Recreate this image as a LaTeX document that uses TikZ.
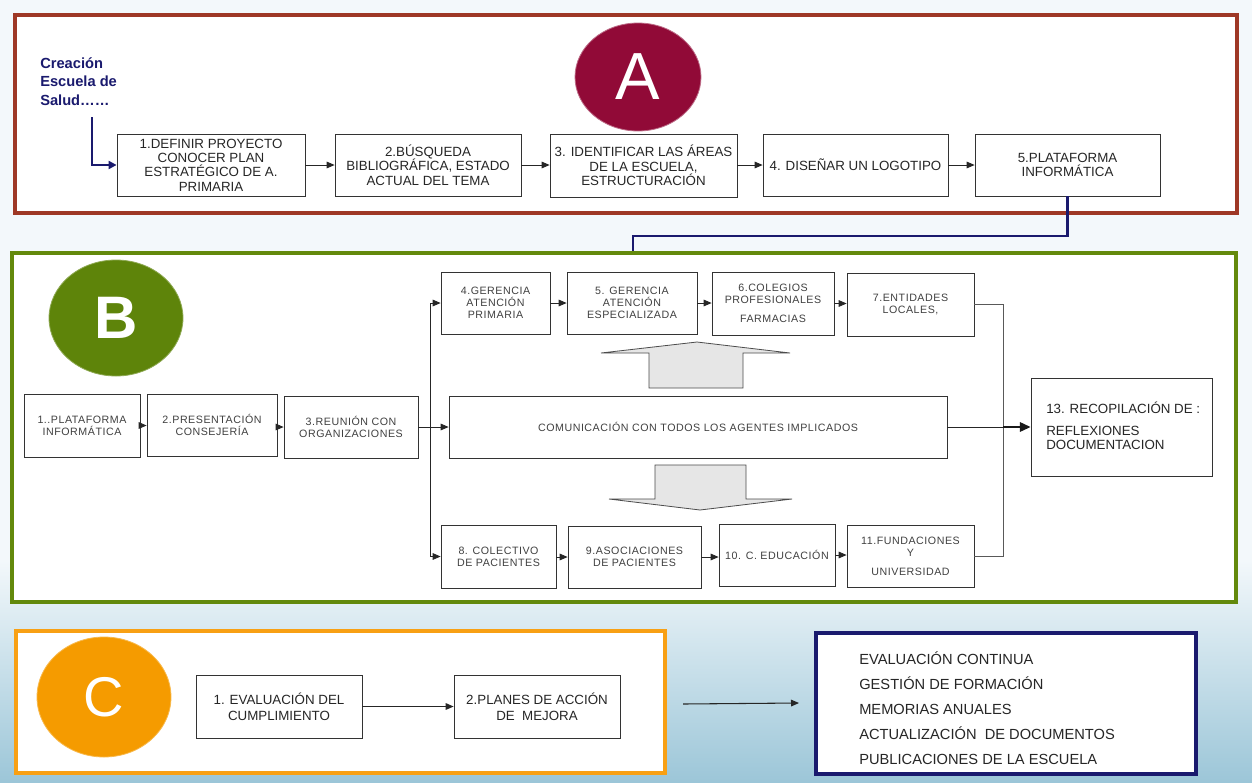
\documentclass[tikz,border=0pt]{standalone}
\usepackage{fontspec}
\setmainfont{Liberation Sans}
\newfontfamily\spc[LetterSpace=5]{Liberation Sans}
\usetikzlibrary{arrows.meta,shapes.geometric}
\definecolor{framea}{RGB}{158,56,38}
\definecolor{frameb}{RGB}{99,137,12}
\definecolor{framec}{RGB}{248,160,20}
\definecolor{navy}{RGB}{26,26,110}
\definecolor{circa}{RGB}{145,10,55}
\definecolor{circb}{RGB}{94,132,10}
\definecolor{circc}{RGB}{245,155,0}
\definecolor{bgtop}{RGB}{243,248,251}
\definecolor{bgbot}{RGB}{156,198,216}
\definecolor{blockgray}{RGB}{230,230,230}
\begin{document}
\begin{tikzpicture}[x=0.75pt,y=-0.75pt,
  sz/.style 2 args={minimum width=#1*0.75pt, minimum height=#2*0.75pt},
  frame/.style={fill=white, inner sep=0pt, line width=2.6pt},
  boxa/.style={draw=black!80, fill=white, line width=0.6pt, inner sep=0pt, align=center, font=\fontsize{10}{10.8}\selectfont, text=black!85},
  boxb/.style={draw=black!80, fill=white, line width=0.6pt, inner sep=0pt, align=center, font=\spc\fontsize{8}{9}\selectfont, text=black!75},
  boxc/.style={draw=black!80, fill=white, line width=0.6pt, inner sep=0pt, align=center, font=\fontsize{10}{12}\selectfont, text=black!85},
  arr/.style={-{Triangle[length=6pt,width=5pt]}, line width=0.6pt, draw=black!85},
  navyline/.style={draw=navy, line width=1.6pt},
  joinline/.style={draw=black!65, line width=0.6pt},
  blockarrow/.style={fill=blockgray, draw=black!70, line width=0.6pt},
  badge/.style={ellipse, inner sep=0pt, text=white}
]
\useasboundingbox (0,0) rectangle (1252,782);
\fill[bgtop] (0,0) rectangle (1252,782);
\shade[top color=bgtop, bottom color=bgbot] (0,560) rectangle (1252,782);

% ---------------- Section A ----------------
\node[frame, draw=framea, sz={1222}{198}] (frameA) at (626,114) {};
\node[badge, fill=circa, draw=circa!60!white, line width=0.6pt, sz={126}{108}] (circA) at (638,77) {\fontsize{50}{50}\selectfont A};
\node[anchor=north west, align=left, inner sep=0pt, text=navy, font=\bfseries\fontsize{11}{13.9}\selectfont] (creacion) at (40,57) {Creación\\Escuela de\\Salud……};
\node[boxa, sz={188}{62}] (a1) at (211,165) {1.DEFINIR PROYECTO\\CONOCER PLAN\\ESTRATÉGICO DE A.\\PRIMARIA};
\node[boxa, sz={186}{62}] (a2) at (428,165) {2.BÚSQUEDA\\BIBLIOGRÁFICA, ESTADO\\ACTUAL DEL TEMA};
\node[boxa, sz={187}{63}] (a3) at (643.5,165.5) {3. IDENTIFICAR LAS ÁREAS\\DE LA ESCUELA,\\ESTRUCTURACIÓN};
\node[boxa, sz={185}{62}] (a4) at (855.5,165) {4. DISEÑAR UN LOGOTIPO};
\node[boxa, sz={185}{62}] (a5) at (1067.5,165) {5.PLATAFORMA\\INFORMÁTICA};
\coordinate (cstart) at (92,117);
\draw[navyline, -{Triangle[length=6pt,width=6pt]}] (cstart) |- (a1.west);
\draw[arr] (a1.east) -- (a2.west);
\draw[arr] (a2.east) -- (a2.east -| a3.west);
\draw[arr] (a3.east |- a4.west) -- (a4.west);
\draw[arr] (a4.east) -- (a5.west);

% ---------------- Section B ----------------
\node[frame, draw=frameb, line width=3pt, sz={1224}{349}] (frameB) at (624,427.5) {};
\coordinate (aelbow) at (633,236);
\draw[navyline] (a5.south) |- (aelbow) -- (aelbow |- frameB.north);
\node[badge, fill=circb, draw=circb!70!white, line width=0.6pt, sz={134}{116}] (circB) at (116,318) {\bfseries\fontsize{45}{45}\selectfont B};

\node[boxb, sz={116}{63}] (b1) at (82,425.5) {1..PLATAFORMA\\INFORMÁTICA};
\node[boxb, sz={130}{62}] (b2) at (212,425) {2.PRESENTACIÓN\\CONSEJERÍA};
\node[boxb, sz={134}{62}] (b3) at (351,427) {3.REUNIÓN CON\\ORGANIZACIONES};
\node[boxb, sz={109}{62}] (b4) at (495.5,303) {4.GERENCIA\\ATENCIÓN\\PRIMARIA};
\node[boxb, sz={130}{62}] (b5) at (632,303) {5. GERENCIA\\ATENCIÓN\\ESPECIALIZADA};
\node[boxb, sz={122}{63}] (b6) at (773,303.5) {6.COLEGIOS\\PROFESIONALES\\[5pt]FARMACIAS};
\node[boxb, sz={127}{63}] (b7) at (910.5,304.5) {7.ENTIDADES\\LOCALES,};
\node[boxb, sz={498}{62}] (comm) at (698,427) {COMUNICACIÓN CON TODOS LOS AGENTES IMPLICADOS};
\node[boxb, sz={115}{63}] (b8) at (498.5,556.5) {8. COLECTIVO\\DE PACIENTES};
\node[boxb, sz={133}{62}] (b9) at (634.5,557) {9.ASOCIACIONES\\DE PACIENTES};
\node[boxb, sz={116}{62}] (b10) at (777,555) {10. C. EDUCACIÓN};
\node[boxb, sz={127}{62}] (b11) at (910.5,556) {11.FUNDACIONES\\Y\\[5pt]UNIVERSIDAD};
\node[draw=black!80, fill=white, line width=0.6pt, inner sep=0pt, sz={181}{98}] (b13) at (1121.5,427) {};
\node[anchor=west, align=left, inner sep=0pt, text=black!85, font=\fontsize{10}{10.9}\selectfont] (b13text) at (1046,426) {13. RECOPILACIÓN DE :\\[5.5pt]REFLEXIONES\\DOCUMENTACION};

\draw[arr] (b1.east) -- (b1.east -| b2.west);
\draw[arr] (b2.east |- b3.west) -- (b3.west);
\coordinate (split) at (430,427);
\draw[arr] (b3.east) -- (comm.west);
\draw[arr] (split) |- (b4.west);
\draw[arr] (split) |- (b8.west);
\draw[arr] (b4.east |- b5.west) -- (b5.west);
\draw[arr] (b5.east) -- (b5.east -| b6.west);
\draw[arr] (b6.east) -- (b6.east -| b7.west);
\draw[arr] (b8.east |- b9.west) -- (b9.west);
\draw[arr] (b9.east) -- (b9.east -| b10.west);
\draw[arr] (b10.east) -- (b10.east -| b11.west);
\coordinate (join) at (1003,427);
\draw[joinline] (b7.east) -| (join) |- (b11.east);
\draw[line width=0.6pt, draw=black!85] (comm.east) -- (join);
\draw[line width=1.5pt, draw=black!90, -{Triangle[length=8pt,width=7pt]}] (join) -- (b13.west);

% block arrows
\draw[blockarrow] (649,388) -- (649,353) -- (601,353) -- (697,342) -- (790,353) -- (743,353) -- (743,388) -- cycle;
\draw[blockarrow] (655,465) -- (746,465) -- (746,499) -- (792,499) -- (700,510) -- (609,499) -- (655,499) -- cycle;

% ---------------- Section C ----------------
\node[frame, draw=framec, line width=3pt, sz={649}{142}] (frameC) at (340.5,702) {};
\node[badge, fill=circc, draw=circc!70!white, line width=0.6pt, sz={134}{120}] (circC) at (104,697) {\fontsize{42}{42}\selectfont C};
\node[boxc, sz={166}{63}] (c1) at (279,706.5) {1. EVALUACIÓN DEL\\CUMPLIMIENTO};
\node[boxc, sz={166}{63}] (c2) at (537,706.5) {2.PLANES DE ACCIÓN\\DE\ \ MEJORA};
\draw[arr, line width=0.8pt] (c1.east) -- (c2.west);
\node[draw=navy, fill=white, line width=2.4pt, inner sep=0pt, sz={380}{141}] (results) at (1006,703.5) {};
\node[anchor=west, align=left, inner sep=0pt, text=black!85, font=\fontsize{11}{18.75}\selectfont] (resultstext) at (859,708) {EVALUACIÓN CONTINUA\\GESTIÓN DE FORMACIÓN\\MEMORIAS ANUALES\\ACTUALIZACIÓN\ \ DE DOCUMENTOS\\PUBLICACIONES DE LA ESCUELA};
\coordinate (fa) at (683,704);
\coordinate (fb) at (799,703);
\draw[arr, line width=0.8pt] (fa) -- (fb);
\end{tikzpicture}
\end{document}
